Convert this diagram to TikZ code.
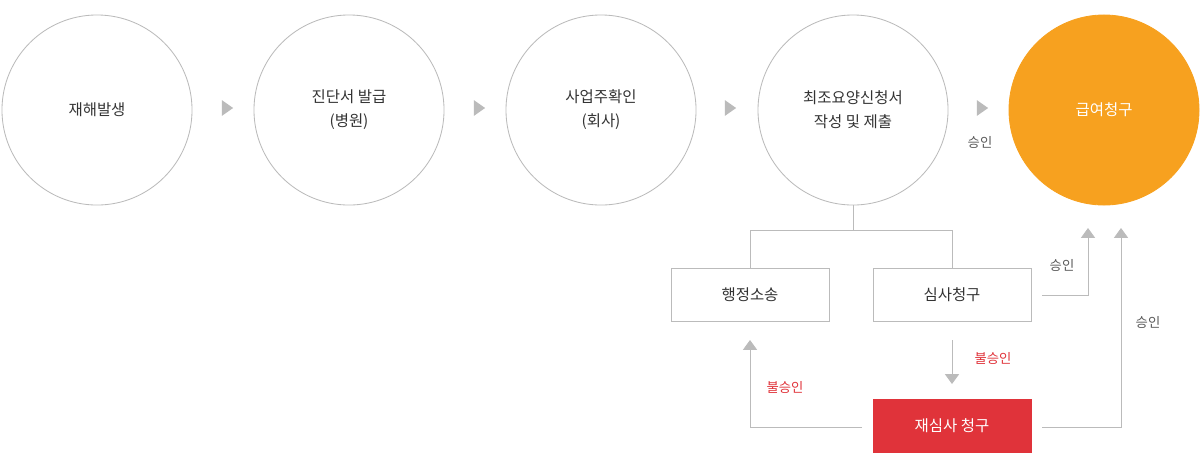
\documentclass[tikz,border=0pt]{standalone}
\usepackage{fontspec}
\setmainfont{Noto Sans CJK KR}
\usetikzlibrary{arrows.meta,shapes.geometric}
\definecolor{orng}{HTML}{F7A11F}
\definecolor{rd}{HTML}{E0333A}
\definecolor{ln}{HTML}{BBBBBB}
\begin{document}
\begin{tikzpicture}[x=0.025cm,y=-0.025cm,
  circ/.style={circle,draw=ln,line width=0.6pt,minimum size=4.75cm,inner sep=0pt,align=center,font=\fontsize{11}{17}\selectfont,text=black!80},
  box/.style={draw=ln,line width=0.6pt,minimum width=3.95cm,minimum height=1.32cm,inner sep=0pt,font=\fontsize{11}{14}\selectfont,text=black!80},
  tri/.style={fill=ln,draw=none,isosceles triangle,isosceles triangle apex angle=70,minimum size=0.28cm,inner sep=0pt},
  conn/.style={draw=ln,line width=0.6pt},
  arr/.style={conn,-{Triangle[length=7pt,width=10pt]}},
  lbl/.style={font=\fontsize{9.5}{12}\selectfont,text=black!65},
  rlbl/.style={font=\fontsize{9.5}{12}\selectfont,text=rd}]
\useasboundingbox (0,0) rectangle (1200,470);
\node[circ] (c1) at (97,110) {재해발생};
\node[circ] (c2) at (349,110) {진단서 발급\\(병원)};
\node[circ] (c3) at (601,110) {사업주확인\\(회사)};
\node[circ] (c4) at (853,110) {최조요양신청서\\작성 및 제출};
\node[circ,fill=orng,draw=orng,text=white] (c5) at (1104,110) {급여청구};
\foreach \x/\n in {226/t1,478/t2,729/t3,981/t4}{\node[tri] (\n) at (\x,108) {};}
\node[lbl] (s0) at (980,142) {승인};
\node[box] (b1) at (750,295) {행정소송};
\node[box] (b2) at (952,295) {심사청구};
\node[box,fill=rd,draw=rd,text=white] (b3) at (952,426) {재심사 청구};
\coordinate (j) at (853,230);
\draw[conn] (c4.south) -- (j);
\draw[conn] (b1.north) -- (750,230) -- (952,230) -- (b2.north);
\coordinate (a1) at (1088,228);
\coordinate (a2) at (1121,228);
\draw[arr] (1042,295) -- (1088,295) -- (a1);
\draw[arr] (1042,427) -- (1121,427) -- (a2);
\draw[arr] (952,340) -- (952,384);
\draw[arr] (862,427) -- (750,427) -- (750,340);
\node[lbl] (s1) at (1062,265) {승인};
\node[lbl] (s2) at (1148,322) {승인};
\node[rlbl] (r1) at (993,358) {불승인};
\node[rlbl] (r2) at (785,387) {불승인};
\end{tikzpicture}
\end{document}
